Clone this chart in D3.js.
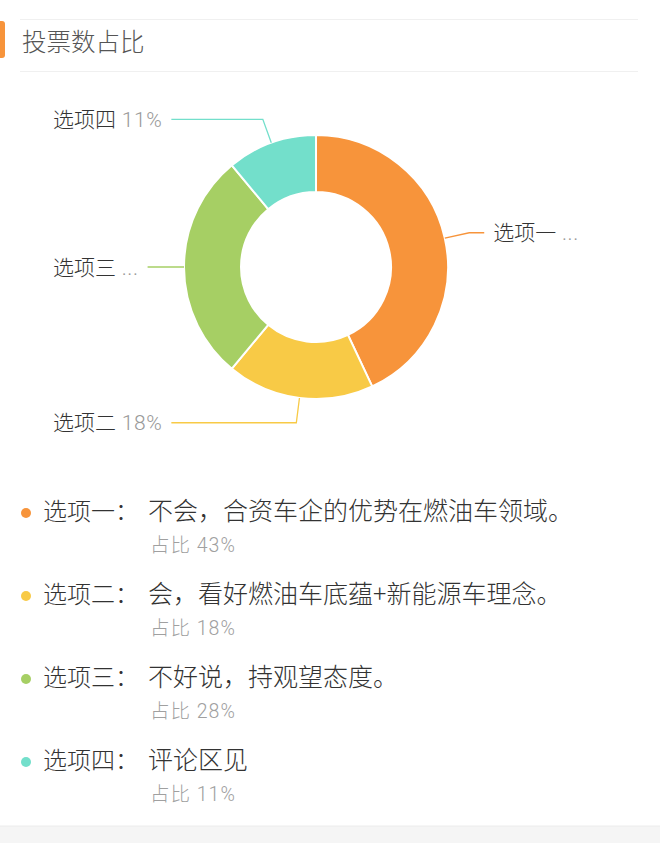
<!DOCTYPE html>
<head>
    <meta charset="utf-8">
    <script src="https://cdn.jsdelivr.net/npm/d3@7"></script>
    <style>
        body {
            margin: 0;
            background: #fff;
        }

        svg {
            display: block;
            font-family: "Noto Sans CJK SC", "Noto Sans", sans-serif;
            font-weight: 300;
        }
        .num {
            font-family: Roboto, "Noto Sans CJK SC", sans-serif;
            font-weight: 300;
        }
    </style>
</head>

<body>
    <script>
        // data
        var names = ["选项一", "选项二", "选项三", "选项四"];
        var values = [43, 18, 28, 11];
        var answers = [
            "不会，合资车企的优势在燃油车领域。",
            "会，看好燃油车底蕴+新能源车理念。",
            "不好说，持观望态度。",
            "评论区见"
        ];
        var colors = ["#f7943b", "#f8ca46", "#a6cf64", "#73dfcb"];
        var title = "投票数占比";

        var width = 660, height = 843;
        var cx = 316, cy = 267;
        var outerR = 132, innerR = 75;

        var svg = d3.select("body")
            .append("svg")
            .attr("width", width)
            .attr("height", height);

        // header
        svg.append("line")
            .attr("x1", 20).attr("x2", 638)
            .attr("y1", 19.5).attr("y2", 19.5)
            .attr("stroke", "#f0f0f0");
        svg.append("line")
            .attr("x1", 20).attr("x2", 638)
            .attr("y1", 71.5).attr("y2", 71.5)
            .attr("stroke", "#f0f0f0");
        svg.append("rect")
            .attr("x", -4).attr("y", 21)
            .attr("width", 9).attr("height", 37)
            .attr("rx", 3)
            .attr("fill", "#f7943b");
        svg.append("text")
            .attr("x", 22).attr("y", 42)
            .attr("dy", "0.36em")
            .attr("font-size", 24.5)
            .attr("fill", "#555")
            .text(title);

        // donut
        var pie = d3.pie().sort(null).value(function (d) { return d; });
        var arcs = pie(values);
        var arc = d3.arc().innerRadius(innerR).outerRadius(outerR);

        var g = svg.append("g").attr("transform", "translate(" + cx + "," + cy + ")");
        g.selectAll("path")
            .data(arcs)
            .enter().append("path")
            .attr("d", arc)
            .attr("fill", function (d, i) { return colors[i]; })
            .attr("stroke", "#fff")
            .attr("stroke-width", 2);

        // labels with leader lines
        var len1 = 25, gap = 9, leftX = 53, rightLimit = 580;
        arcs.forEach(function (d, i) {
            var a = (d.startAngle + d.endAngle) / 2;
            var sx = Math.sin(a), sy = -Math.cos(a);
            var p0 = [cx + outerR * sx, cy + outerR * sy];
            var p1 = [cx + (outerR + len1) * sx, cy + (outerR + len1) * sy];
            var left = sx < 0;

            var t = svg.append("text")
                .attr("y", p1[1])
                .attr("dy", "0.36em")
                .attr("font-size", 21);
            t.append("tspan").attr("fill", "#333").text(names[i]);
            var pct = t.append("tspan").attr("class", "num").attr("fill", "#999")
                .attr("letter-spacing", 0.6).text(" " + values[i] + "%");

            var room = left ? (p1[0] - 8 - gap - leftX) : (rightLimit - (p1[0] + 15 + gap));
            if (t.node().getComputedTextLength() > room) pct.text(" ...");
            var w = t.node().getComputedTextLength();

            var endX;
            if (left) {
                t.attr("x", leftX);
                endX = leftX + w + gap;
            } else {
                endX = p1[0] + 15;
                t.attr("x", endX + gap);
            }

            svg.append("path")
                .attr("d", d3.line()([p0, p1, [endX, p1[1]]]))
                .attr("fill", "none")
                .attr("stroke", colors[i])
                .attr("stroke-width", 1.3);
        });

        // legend list
        var rowY = 511, rowStep = 83;
        var rows = svg.selectAll(".row")
            .data(names)
            .enter().append("g")
            .attr("class", "row")
            .attr("transform", function (d, i) { return "translate(0," + (rowY + i * rowStep) + ")"; });

        rows.append("circle")
            .attr("cx", 26).attr("cy", 2)
            .attr("r", 5)
            .attr("fill", function (d, i) { return colors[i]; });
        rows.append("text")
            .attr("x", 43).attr("dy", "0.36em")
            .attr("font-size", 24)
            .attr("fill", "#333")
            .text(function (d) { return d + "："; });
        rows.append("text")
            .attr("x", 148).attr("dy", "0.36em")
            .attr("font-size", 25)
            .attr("fill", "#333")
            .text(function (d, i) { return answers[i]; });
        rows.append("text")
            .attr("class", "num")
            .attr("x", 150).attr("y", 34).attr("dy", "0.36em")
            .attr("font-size", 19.5)
            .attr("letter-spacing", 1)
            .attr("fill", "#a0a0a0")
            .text(function (d, i) { return "占比 " + values[i] + "%"; });

        // bottom band
        svg.append("rect")
            .attr("x", 0).attr("y", 826)
            .attr("width", width).attr("height", height - 826)
            .attr("fill", "#f5f5f5");
        svg.append("line")
            .attr("x1", 0).attr("x2", width)
            .attr("y1", 826).attr("y2", 826)
            .attr("stroke", "#ececec");
    </script>
</body>
